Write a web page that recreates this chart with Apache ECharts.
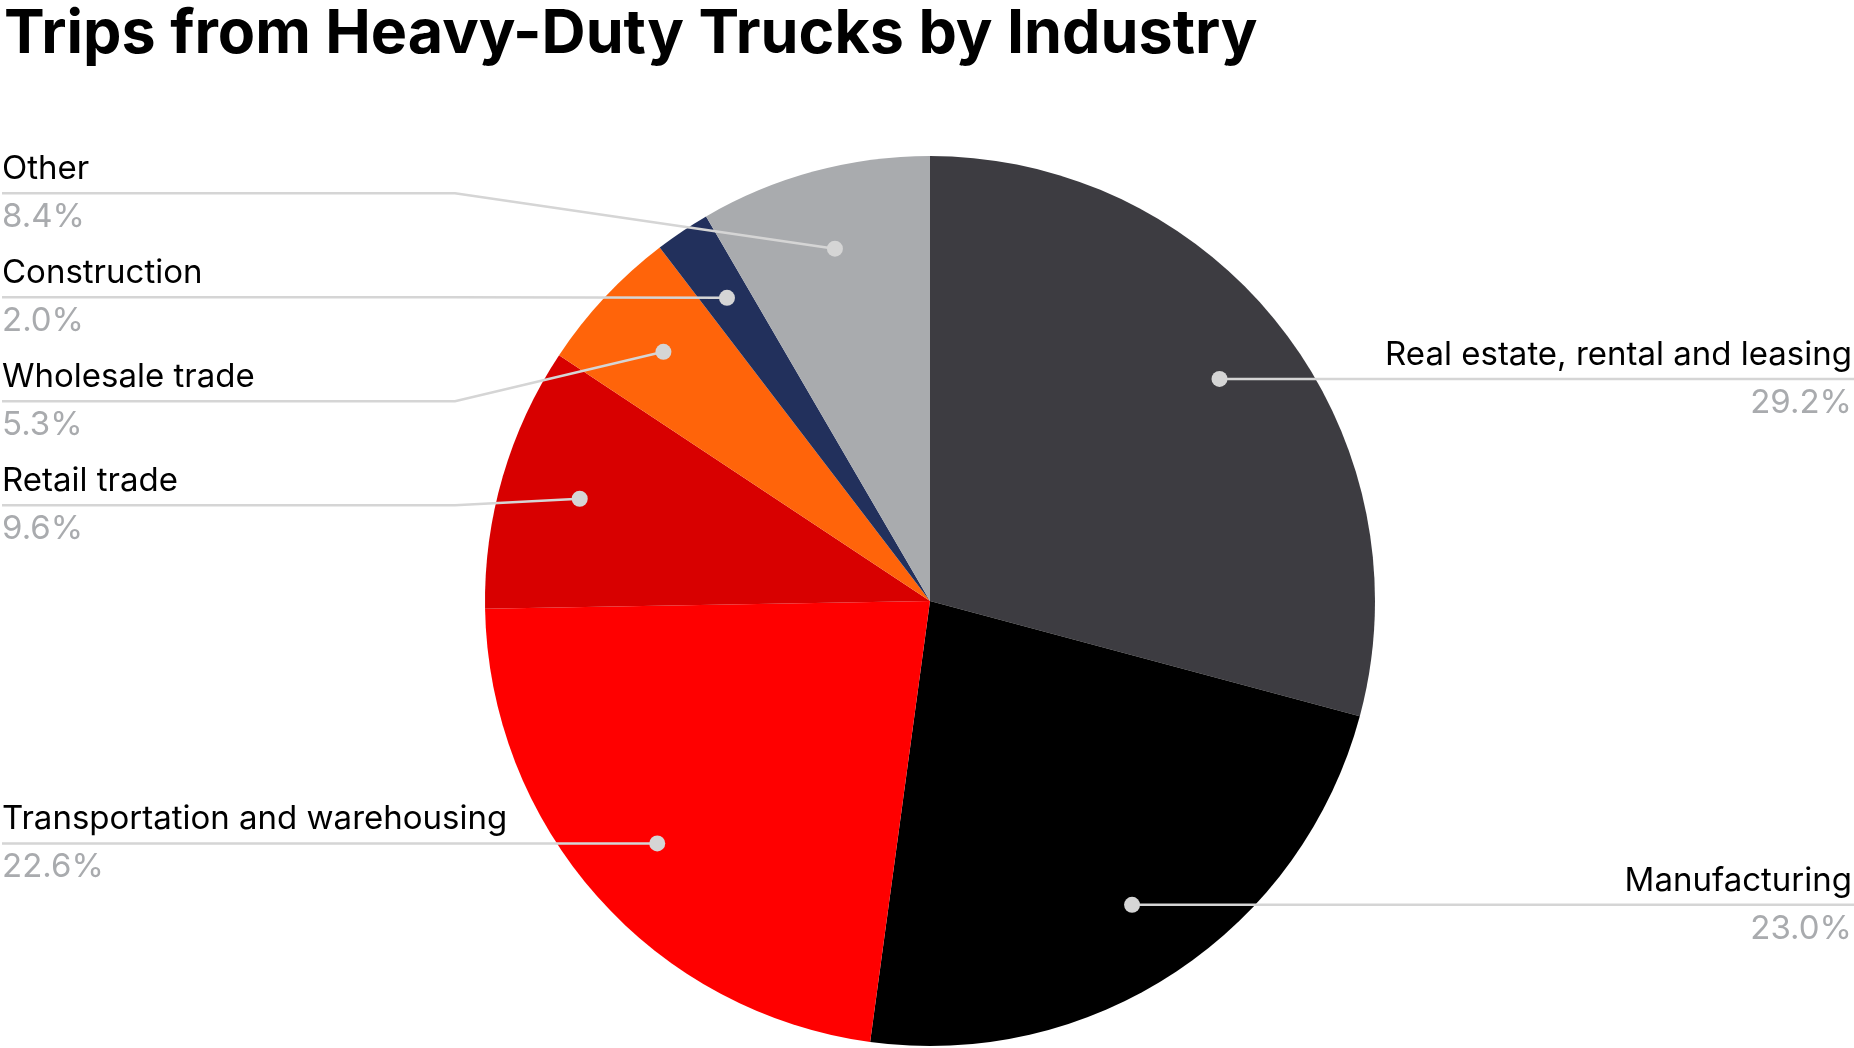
<!DOCTYPE html>
<html><head><meta charset="utf-8">
<script src="https://cdn.jsdelivr.net/npm/echarts@6/dist/echarts.min.js"></script>
<style>html,body{margin:0;padding:0;background:#fff}#c{width:1854px;height:1048px}</style>
</head><body><div id="c"></div>
<script>
const chartTitle = 'Trips from Heavy-Duty Trucks by Industry';
const categories = ['Real estate, rental and leasing', 'Manufacturing', 'Transportation and warehousing', 'Retail trade', 'Wholesale trade', 'Construction', 'Other'];
const values = [29.2, 23.0, 22.6, 9.6, 5.3, 2.0, 8.4];
const colors = ['#3d3c41', '#000000', '#ff0000', '#d80000', '#ff640a', '#22305c', '#a9abae'];

const CX = 930, CY = 601, R = 445, DOT_K = 0.82, GAP = 104, LABEL_SHIFT = 0;
const LINE_COLOR = '#d5d5d5';
const FONT = 'Inter';

const total = values.reduce((a, b) => a + b, 0);
let acc = 0;
const mids = values.map(v => { const m = acc + v / 2; acc += v; return m; });
const dots = mids.map(m => {
  const t = m / total * 2 * Math.PI;
  return { x: CX + DOT_K * R * Math.sin(t), y: CY - DOT_K * R * Math.cos(t), right: Math.sin(t) >= 0 };
});

function spread(idx, top, bottom) {
  let groups = idx.map(i => ({ items: [i] })).sort((a, b) => dots[a.items[0]].y - dots[b.items[0]].y);
  const start = g => {
    const mean = g.items.reduce((s, i) => s + dots[i].y, 0) / g.items.length;
    let s = mean - (g.items.length - 1) / 2 * GAP;
    return Math.max(top, Math.min(bottom - (g.items.length - 1) * GAP, s));
  };
  let changed = true;
  while (changed) {
    changed = false;
    for (let k = 0; k < groups.length - 1; k++) {
      const a = groups[k], b = groups[k + 1];
      const aEnd = start(a) + (a.items.length - 1) * GAP;
      if (start(b) - aEnd < GAP) {
        groups.splice(k, 2, { items: a.items.concat(b.items) });
        changed = true; break;
      }
    }
  }
  const out = {};
  groups.forEach(g => { const s = start(g); g.items.forEach((i, j) => { out[i] = s + j * GAP; }); });
  return out;
}
const leftIdx = [], rightIdx = [];
dots.forEach((d, i) => (d.right ? rightIdx : leftIdx).push(i));
const labelY = Object.assign({}, spread(leftIdx, 140, 1000), spread(rightIdx, 140, 1000));

const pieData = categories.map((c, i) => ({ name: c, value: values[i], itemStyle: { color: colors[i] } }));

const chart = echarts.init(document.getElementById('c'), null, { renderer: 'canvas' });
chart.setOption({
  animation: false,
  backgroundColor: '#ffffff',
  title: {
    text: chartTitle, left: 4, top: 4, padding: 0,
    textStyle: { fontFamily: FONT, fontWeight: 'bold', fontSize: 61, color: '#000000' }
  },
  polar: { center: [CX, CY], radius: R },
  angleAxis: { type: 'value', min: 0, max: total, startAngle: 90, clockwise: true, show: false,
    axisLine: { show: false }, splitLine: { show: false }, axisTick: { show: false }, axisLabel: { show: false } },
  radiusAxis: { type: 'value', min: 0, max: 1, show: false,
    axisLine: { show: false }, splitLine: { show: false }, axisTick: { show: false }, axisLabel: { show: false } },
  series: [
    {
      type: 'pie',
      z: 2,
      center: [CX, CY],
      radius: [0, R],
      startAngle: 90,
      clockwise: true,
      silent: true,
      emphasis: { disabled: true },
      data: pieData,
      itemStyle: { borderWidth: 0 },
      label: { show: false },
      labelLine: { show: false }
    },
    {
      type: 'pie',
      z: 5,
      center: [CX, CY],
      radius: [0, R],
      startAngle: 90,
      clockwise: true,
      silent: true,
      emphasis: { disabled: true },
      data: categories.map((c, i) => ({ name: c, value: values[i] })),
      itemStyle: { color: 'rgba(0,0,0,0)', borderWidth: 0 },
      label: {
        show: true,
        position: 'outside',
        alignTo: 'edge',
        edgeDistance: 2,
        formatter: p => '{n|' + p.name + '}\n{v|' + p.value.toFixed(1) + '%}',
        rich: {
          n: { fontFamily: FONT, fontSize: 33, color: '#000000', lineHeight: 48 },
          v: { fontFamily: FONT, fontSize: 33, color: '#a9abae', lineHeight: 48 }
        }
      },
      labelLine: { show: true, length: 10, length2: 0, smooth: false, lineStyle: { color: LINE_COLOR, width: 2.5 } },
      labelLayout: function (p) {
        const i = p.dataIndex, d = dots[i], y = labelY[i];
        const r = p.labelRect;
        const endX = d.right ? r.x + r.width + 2 : r.x;
        const bendX = d.right ? CX + R + 30 : CX - R - 30;
        return { y: y + LABEL_SHIFT, labelLinePoints: [[d.x, d.y], [bendX, y], [endX, y]] };
      }
    },
    {
      type: 'scatter',
      coordinateSystem: 'polar',
      polarIndex: 0,
      silent: true,
      z: 10,
      symbol: 'circle',
      symbolSize: 16,
      itemStyle: { color: LINE_COLOR, opacity: 1 },
      data: mids.map(m => [DOT_K, m])
    }
  ]
});
</script></body></html>
